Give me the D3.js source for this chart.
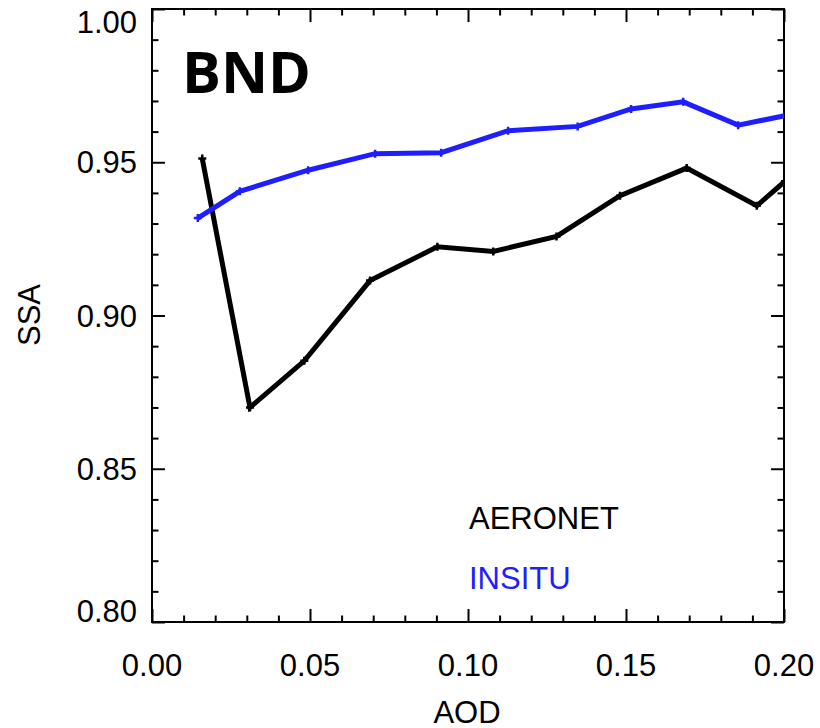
<!DOCTYPE html>
<html>
<head>
<meta charset="utf-8">
<script src="https://cdn.jsdelivr.net/npm/d3@7"></script>
<style>
  html, body { margin: 0; padding: 0; background: #fff; }
  svg { display: block; }
  text { font-family: "Liberation Sans", Arial, sans-serif; }
  text.site { font-family: "Open Sans", sans-serif; font-weight: 700; }
</style>
</head>
<body>
<svg id="chart" width="820" height="728"></svg>
<script>
// SSA versus AOD at the BND site
const aeronetAod = [0.0159, 0.0310, 0.0482, 0.0690, 0.0903, 0.1080, 0.1280, 0.1481, 0.1692, 0.1914, 0.2003];
const aeronetSsa = [0.9512, 0.8700, 0.8852, 0.9114, 0.9224, 0.9209, 0.9258, 0.9391, 0.9481, 0.9358, 0.9438];

const insituAod = [0.0145, 0.0278, 0.0494, 0.0706, 0.0915, 0.1127, 0.1347, 0.1516, 0.1681, 0.1855, 0.2003];
const insituSsa = [0.9318, 0.9405, 0.9474, 0.9528, 0.9531, 0.9603, 0.9617, 0.9674, 0.9697, 0.9621, 0.9652];

const xTickValues = [0.00, 0.05, 0.10, 0.15, 0.20];
const yTickValues = [0.80, 0.85, 0.90, 0.95, 1.00];
const siteName = "BND";
const seriesNames = ["AERONET", "INSITU"];
const seriesColors = ["#000000", "#1e1eff"];

const svg = d3.select("#chart");
const plotLeft = 152, plotRight = 784, plotTop = 9, plotBottom = 622;

const x = d3.scaleLinear().domain([0, 0.2]).range([plotLeft, plotRight]);
const y = d3.scaleLinear().domain([0.8, 1.0]).range([plotBottom, plotTop]);

const minorX = d3.range(0, 0.2001, 0.01);
const minorY = d3.range(0.8, 1.0001, 0.01);
const isMajor = v => Math.abs(Math.round(v / 0.05) * 0.05 - v) < 1e-6;

const fmt = d3.format(".2f");

// Bottom axis ticks, mirrored on top
const xAxis = d3.axisBottom(x).tickValues(minorX).tickSize(0).tickFormat("");
const gx = svg.append("g").attr("transform", `translate(0,${plotBottom})`).call(xAxis);
gx.select(".domain").remove();
gx.selectAll(".tick line")
  .attr("y2", d => isMajor(d) ? -13 : -6.5)
  .attr("stroke", "#000").attr("stroke-width", 2);

const gxTop = svg.append("g").attr("transform", `translate(0,${plotTop})`).call(xAxis);
gxTop.select(".domain").remove();
gxTop.selectAll(".tick line")
  .attr("y2", d => isMajor(d) ? 13 : 6.5)
  .attr("stroke", "#000").attr("stroke-width", 2);

svg.append("g").selectAll("text").data(xTickValues).join("text")
  .attr("x", d => x(d)).attr("y", 676)
  .attr("text-anchor", "middle")
  .attr("font-size", 31).attr("fill", "#000")
  .text(d => fmt(d));

// Left axis ticks, mirrored on right
const yAxis = d3.axisLeft(y).tickValues(minorY).tickSize(0).tickFormat("");
const gy = svg.append("g").attr("transform", `translate(${plotLeft},0)`).call(yAxis);
gy.select(".domain").remove();
gy.selectAll(".tick line")
  .attr("x2", d => isMajor(d) ? 13 : 6.5)
  .attr("stroke", "#000").attr("stroke-width", 2);

const gyR = svg.append("g").attr("transform", `translate(${plotRight},0)`).call(yAxis);
gyR.select(".domain").remove();
gyR.selectAll(".tick line")
  .attr("x2", d => isMajor(d) ? -13 : -6.5)
  .attr("stroke", "#000").attr("stroke-width", 2);

// y labels are centred on their ticks but kept inside the axis span
svg.append("g").selectAll("text").data(yTickValues).join("text")
  .attr("x", 137)
  .attr("y", d => Math.min(plotBottom, Math.max(plotTop + 24, y(d) + 11)))
  .attr("text-anchor", "end")
  .attr("font-size", 31).attr("fill", "#000")
  .text(d => fmt(d));

// Plot frame
svg.append("rect")
  .attr("x", plotLeft).attr("y", plotTop)
  .attr("width", plotRight - plotLeft).attr("height", plotBottom - plotTop)
  .attr("fill", "none").attr("stroke", "#000").attr("stroke-width", 2);

// Axis titles
svg.append("text")
  .attr("x", 467).attr("y", 723)
  .attr("text-anchor", "middle").attr("font-size", 31).attr("fill", "#000")
  .text("AOD");
svg.append("text")
  .attr("transform", "translate(40,315) rotate(-90)")
  .attr("text-anchor", "middle").attr("font-size", 31).attr("fill", "#000")
  .text("SSA");

// Data lines
svg.append("clipPath").attr("id", "plotClip")
  .append("rect").attr("x", plotLeft).attr("y", plotTop)
  .attr("width", plotRight - plotLeft).attr("height", plotBottom - plotTop);

const line = d3.line().x(d => x(d[0])).y(d => y(d[1]));
const series = [
  d3.zip(aeronetAod, aeronetSsa),
  d3.zip(insituAod, insituSsa)
];

const plot = svg.append("g").attr("clip-path", "url(#plotClip)");
series.forEach((pts, i) => {
  plot.append("path")
    .datum(pts)
    .attr("d", line)
    .attr("fill", "none")
    .attr("stroke", seriesColors[i])
    .attr("stroke-width", 5)
    .attr("stroke-linejoin", "miter");
  // plus-sign markers at each point
  plot.append("g").selectAll("path").data(pts).join("path")
    .attr("d", d => {
      const cx = x(d[0]), cy = y(d[1]), s = 4;
      return `M${cx - s},${cy}H${cx + s}M${cx},${cy - s}V${cy + s}`;
    })
    .attr("stroke", seriesColors[i]).attr("stroke-width", 2.5);
});

// Site label
svg.append("text")
  .attr("class", "site")
  .attr("x", 182).attr("y", 93)
  .attr("font-size", 58).attr("fill", "#000")
  .text(siteName);

// Legend
seriesNames.forEach((name, i) => {
  svg.append("text")
    .attr("x", 469).attr("y", 529 + i * 60)
    .attr("font-size", 31).attr("fill", seriesColors[i])
    .text(name);
});
</script>
</body>
</html>
